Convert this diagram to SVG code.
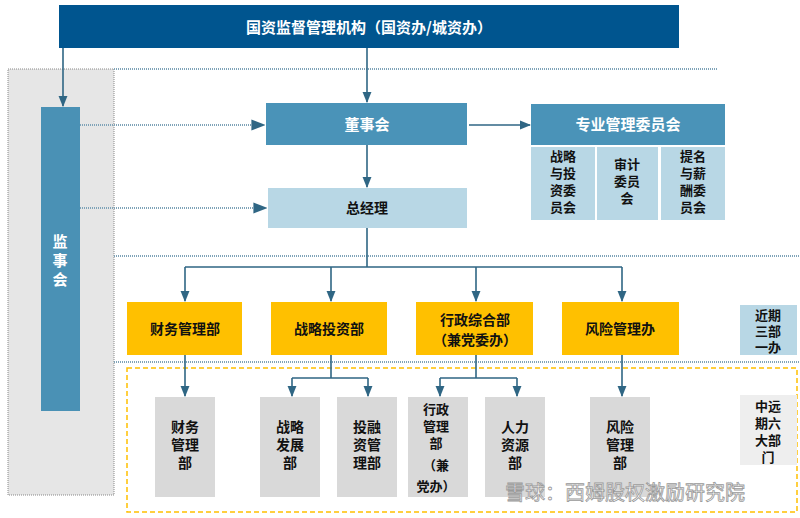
<svg xmlns="http://www.w3.org/2000/svg" width="800" height="518" viewBox="0 0 800 518">
<defs>
<marker id="ah" viewBox="0 0 10 10" refX="9" refY="5" markerWidth="7" markerHeight="7" orient="auto"><path d="M0,1 L10,5 L0,9 z" fill="#2f6684"/></marker>
<style>
text{font-family:"Noto Sans CJK SC","Liberation Sans",sans-serif;font-weight:bold;text-anchor:middle}
.w{fill:#fff;font-size:15px}
.k{fill:#111;font-size:14px}
.s{fill:#111;font-size:13px}
.ln{stroke:#2f6684;stroke-width:1.6;fill:none}
.dl{stroke:#7fa3b8;stroke-width:2;stroke-dasharray:1 1;fill:none}
.lb{fill:#b8d7e5}
.y{fill:#ffc000}
.g{fill:#d9d9d9}
</style>
</defs>
<rect width="800" height="518" fill="#fff"/>
<rect x="8" y="69" width="106" height="426" fill="#e6e6e6" stroke="#888" stroke-dasharray="1 1"/>
<g id="bg-lines">
<path class="dl" d="M114 69H717M114 256H800M114 362H800"/>
<rect x="127" y="368" width="670" height="144" fill="none" stroke="#ffc000" stroke-width="1.5" stroke-dasharray="5 3"/>
</g>
<g id="top"><rect x="59" y="5" width="620" height="43" fill="#00558f"/><text class="w" x="369" y="33" font-size="17">国资监督管理机构（国资办/城资办）</text></g>
<g id="jsh"><rect x="41" y="107" width="39" height="304" fill="#4a91b5"/><text class="w" x="60" y="247">监<tspan x="60" dy="19">事</tspan><tspan x="60" dy="19">会</tspan></text></g>
<g id="dsh"><rect x="266" y="103" width="201" height="42" fill="#4a93b8"/><text class="w" x="367" y="130">董事会</text></g>
<g id="zy"><rect x="531" y="104" width="194" height="41" fill="#4a93b8"/><text class="w" x="628" y="130">专业管理委员会</text>
<rect class="lb" x="531" y="147" width="64" height="73"/><rect class="lb" x="597" y="147" width="61" height="73"/><rect class="lb" x="661" y="147" width="64" height="73"/>
<text class="s" x="563" y="161">战略<tspan x="563" dy="17">与投</tspan><tspan x="563" dy="17">资委</tspan><tspan x="563" dy="17">员会</tspan></text>
<text class="s" x="627" y="169">审计<tspan x="627" dy="17">委员</tspan><tspan x="627" dy="17">会</tspan></text>
<text class="s" x="693" y="161">提名<tspan x="693" dy="17">与薪</tspan><tspan x="693" dy="17">酬委</tspan><tspan x="693" dy="17">员会</tspan></text></g>
<g id="zjl"><rect class="lb" x="268" y="188" width="199" height="40"/><text class="k" x="367" y="213">总经理</text></g>
<g id="y1"><rect class="y" x="127" y="302" width="115" height="53"/><text class="k" x="185" y="334">财务管理部</text></g>
<g id="y2"><rect class="y" x="271" y="302" width="116" height="53"/><text class="k" x="329" y="334">战略投资部</text></g>
<g id="y3"><rect class="y" x="416" y="302" width="117" height="53"/><text class="k" x="475" y="325">行政综合部<tspan x="475" dy="20">（兼党委办）</tspan></text></g>
<g id="y4"><rect class="y" x="562" y="302" width="117" height="53"/><text class="k" x="620" y="334">风险管理办</text></g>
<g id="near"><rect class="lb" x="740" y="305" width="57" height="50"/><text class="s" x="768" y="320">近期<tspan x="768" dy="16">三部</tspan><tspan x="768" dy="16">一办</tspan></text></g>
<g id="far"><rect x="740" y="395" width="57" height="70" fill="#eeeeee"/><text class="s" x="768" y="411">中远<tspan x="768" dy="17">期六</tspan><tspan x="768" dy="17">大部</tspan><tspan x="768" dy="17">门</tspan></text></g>
<g id="g1"><rect class="g" x="155" y="397" width="60" height="100"/><text class="k" x="185" y="432">财务<tspan x="185" dy="18">管理</tspan><tspan x="185" dy="18">部</tspan></text></g>
<g id="g2"><rect class="g" x="260" y="397" width="60" height="100"/><text class="k" x="290" y="432">战略<tspan x="290" dy="18">发展</tspan><tspan x="290" dy="18">部</tspan></text></g>
<g id="g3"><rect class="g" x="337" y="397" width="60" height="100"/><text class="k" x="367" y="432">投融<tspan x="367" dy="18">资管</tspan><tspan x="367" dy="18">理部</tspan></text></g>
<g id="g4"><rect class="g" x="408" y="397" width="60" height="100"/><text class="s" x="436" y="414">行政<tspan x="436" dy="17">管理</tspan><tspan x="436" dy="17">部</tspan><tspan x="436" dy="22">（兼</tspan><tspan x="436" dy="21">党办）</tspan></text></g>
<g id="g5"><rect class="g" x="485" y="397" width="60" height="100"/><text class="k" x="515" y="432">人力<tspan x="515" dy="18">资源</tspan><tspan x="515" dy="18">部</tspan></text></g>
<g id="g6"><rect class="g" x="590" y="397" width="60" height="100"/><text class="k" x="620" y="432">风险<tspan x="620" dy="18">管理</tspan><tspan x="620" dy="18">部</tspan></text></g>
<g id="connectors">
<path class="ln" d="M63 48V106" marker-end="url(#ah)"/>
<path class="ln" d="M367 48V102" marker-end="url(#ah)"/>
<path class="ln" d="M367 145V187" marker-end="url(#ah)"/>
<path class="ln" d="M469 125H530" marker-end="url(#ah)"/>
<path class="dl" d="M80 125H264" marker-end="url(#ah)"/>
<path class="dl" d="M80 208H266" marker-end="url(#ah)"/>
<path class="ln" d="M367 228V267M185 267H622"/>
<path class="ln" d="M185 267V301" marker-end="url(#ah)"/>
<path class="ln" d="M331 267V301" marker-end="url(#ah)"/>
<path class="ln" d="M476 267V301" marker-end="url(#ah)"/>
<path class="ln" d="M622 267V301" marker-end="url(#ah)"/>
<path class="ln" d="M185 355V396" marker-end="url(#ah)"/>
<path class="ln" d="M622 355V396" marker-end="url(#ah)"/>
<path class="ln" d="M331 355V378M292 378H368"/>
<path class="ln" d="M292 378V396" marker-end="url(#ah)"/>
<path class="ln" d="M368 378V396" marker-end="url(#ah)"/>
<path class="ln" d="M476 355V378M440 378H517"/>
<path class="ln" d="M440 378V396" marker-end="url(#ah)"/>
<path class="ln" d="M517 378V396" marker-end="url(#ah)"/>
</g>
<text x="625" y="500" style="font-size:20px;font-weight:normal;fill:#fff;stroke:#999;stroke-width:0.8">雪球：西姆股权激励研究院</text>
</svg>
